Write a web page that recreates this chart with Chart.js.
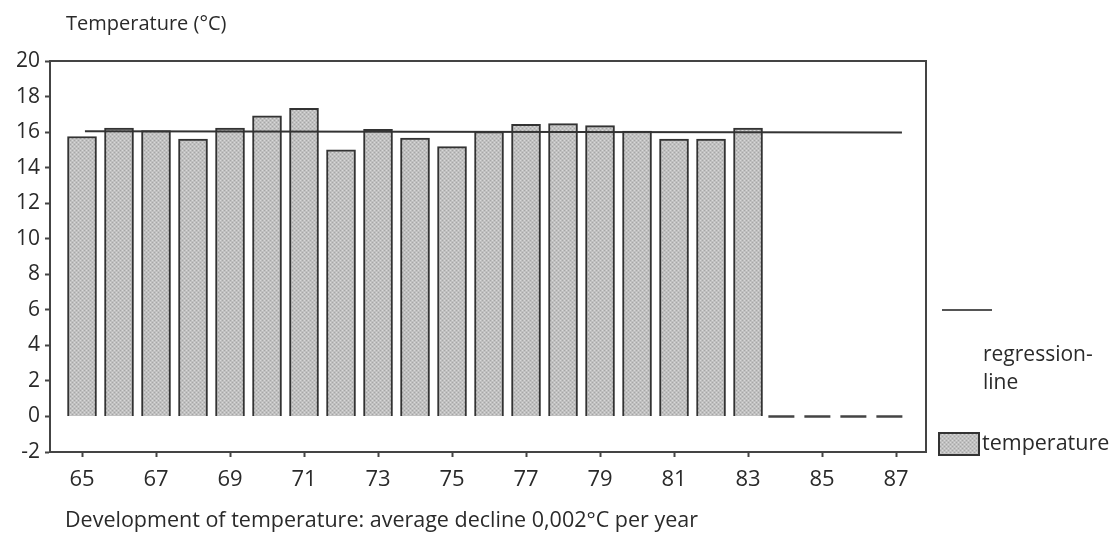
<!DOCTYPE html>
<html>
<head>
<meta charset="utf-8">
<title>Development of temperature</title>
<script src="https://cdn.jsdelivr.net/npm/chart.js@4.4.1/dist/chart.umd.min.js"></script>
<style>
  html, body { margin: 0; padding: 0; background: #fff; }
  #wrap { position: relative; width: 1118px; height: 550px; }
</style>
</head>
<body>
<div id="wrap"><canvas id="tempchart"></canvas></div>
<script>
// values
var years = [65, 66, 67, 68, 69, 70, 71, 72, 73, 74, 75, 76, 77, 78, 79, 80, 81, 82, 83];
var temperature = [15.75, 16.22, 16.08, 15.6, 16.22, 16.91, 17.34, 15.0, 16.16, 15.66, 15.18, 16.03, 16.44, 16.48, 16.36, 16.05, 15.6, 15.6, 16.22];

var regressionYears = [65.08, 87.16];
var regressionValues = [16.05, 15.97];

var missingYears = [83.55, 87.25];
var missingValues = [0, 0];

var xTickLabels = [65, 67, 69, 71, 73, 75, 77, 79, 81, 83, 85, 87];
var yTickLabels = [-2, 0, 2, 4, 6, 8, 10, 12, 14, 16, 18, 20];

var titleText = "Temperature (°C)";
var captionText = "Development of temperature: average decline 0,002°C per year";
var legendLine = ["regression-", "line"];
var legendBar = "temperature";

var fontFamily = "'Open Sans', 'Noto Sans', sans-serif";
var ink = "#2a2a2a";

function stipple() {
  var c = document.createElement("canvas");
  c.width = 4; c.height = 4;
  var g = c.getContext("2d");
  g.fillStyle = "#c0c0c0"; g.fillRect(0, 0, 4, 4);
  g.fillStyle = "#d8d8d8"; g.fillRect(0, 0, 1, 1); g.fillRect(2, 2, 1, 1);
  g.fillStyle = "#a6a6a6"; g.fillRect(2, 0, 1, 1); g.fillRect(0, 2, 1, 1);
  return g.createPattern(c, "repeat");
}
var barFill = stipple();

function pairs(xs, ys) {
  var out = [];
  for (var i in xs) {
    out.push({ x: xs[i], y: ys[i] });
  }
  return out;
}

// frame on top/right, titles and the side legend
var decorations = {
  id: "decorations",
  afterDraw: function (chart) {
    var ctx = chart.ctx;
    var a = chart.chartArea;
    ctx.save();
    ctx.strokeStyle = "#444";
    ctx.lineWidth = 2;
    ctx.beginPath();
    ctx.moveTo(a.left, a.top);
    ctx.lineTo(a.right, a.top);
    ctx.lineTo(a.right, a.bottom);
    ctx.stroke();

    ctx.fillStyle = ink;
    ctx.textAlign = "left";
    ctx.textBaseline = "middle";
    ctx.font = "20px " + fontFamily;
    ctx.fillText(titleText, 66, 24);

    ctx.font = "21.5px " + fontFamily;
    ctx.fillText(captionText, 65, 521);

    // legend: regression line
    var lx = a.right + 16;
    ctx.strokeStyle = "#555";
    ctx.lineWidth = 2;
    ctx.beginPath();
    ctx.moveTo(lx, 310);
    ctx.lineTo(lx + 50, 310);
    ctx.stroke();
    ctx.font = "21px " + fontFamily;
    ctx.fillText(legendLine[0], a.right + 57, 355);
    ctx.fillText(legendLine[1], a.right + 57, 383);

    // legend: temperature box
    ctx.fillStyle = barFill;
    ctx.fillRect(a.right + 13, 433, 40, 22);
    ctx.strokeStyle = "#333";
    ctx.lineWidth = 2;
    ctx.strokeRect(a.right + 13, 433, 40, 22);
    ctx.fillStyle = ink;
    ctx.font = "21.5px " + fontFamily;
    ctx.fillText(legendBar, a.right + 56, 444);
    ctx.restore();
  }
};

var chartdata = {
  datasets: [
    {
      type: "line",
      label: "regression-line",
      data: pairs(regressionYears, regressionValues),
      borderColor: "#333",
      borderWidth: 2,
      pointRadius: 0,
      order: 0
    },
    {
      type: "line",
      label: "no data",
      data: pairs(missingYears, missingValues),
      borderColor: "#444",
      borderWidth: 2.5,
      borderDash: [26, 10],
      pointRadius: 0,
      order: 0
    },
    {
      type: "bar",
      label: "temperature",
      data: pairs(years, temperature),
      backgroundColor: barFill,
      borderColor: "#333",
      borderWidth: 2,
      barThickness: 29,
      order: 1
    }
  ]
};

var tempchart = new Chart(document.getElementById("tempchart"), {
  type: "bar",
  data: chartdata,
  plugins: [decorations],
  options: {
    responsive: true,
    maintainAspectRatio: false,
    animation: false,
    layout: { padding: { left: 0, top: 61, right: 192, bottom: 0 } },
    plugins: {
      legend: { display: false },
      tooltip: { enabled: false }
    },
    scales: {
      x: {
        type: "linear",
        offset: false,
        min: 64.135,
        max: 87.81,
        afterFit: function (scale) { scale.height = 98; },
        afterBuildTicks: function (scale) {
          scale.ticks = xTickLabels.map(function (v) { return { value: v }; });
        },
        grid: { offset: false, drawOnChartArea: false, drawTicks: true, tickLength: 5, tickColor: "#444", tickWidth: 2 },
        border: { display: true, color: "#444", width: 2 },
        ticks: {
          color: ink,
          padding: 10,
          maxRotation: 0,
          autoSkip: false,
          font: { family: fontFamily, size: 22 }
        }
      },
      y: {
        min: -2,
        max: 20,
        afterFit: function (scale) { scale.width = 50; },
        afterBuildTicks: function (scale) {
          scale.ticks = yTickLabels.map(function (v) { return { value: v }; });
        },
        grid: { drawOnChartArea: false, drawTicks: true, tickLength: 5, tickColor: "#444", tickWidth: 2 },
        border: { display: true, color: "#444", width: 2 },
        ticks: {
          color: ink,
          padding: 5,
          font: { family: fontFamily, size: 21 }
        }
      }
    }
  }
});
</script>
</body>
</html>
